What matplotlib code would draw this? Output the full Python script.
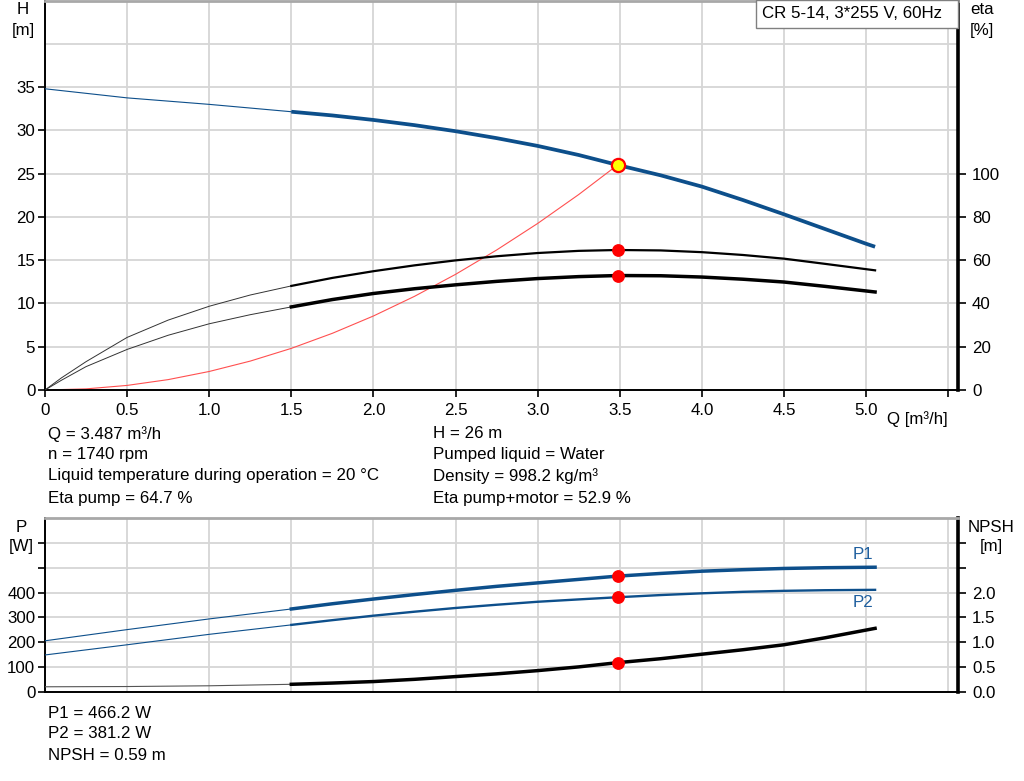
import matplotlib
matplotlib.use("Agg")
import matplotlib.pyplot as plt
from matplotlib.patches import Rectangle

plt.rcParams['font.family'] = ['Liberation Sans', 'DejaVu Sans']

# ---------------- data ----------------
# Head curve
Q_h_thin = [0.0, 0.5, 1.0, 1.5]
H_thin = [34.8, 33.75, 33.0, 32.15]
Q_h = [1.5, 1.75, 2.0, 2.25, 2.5, 2.75, 3.0, 3.25, 3.487, 3.75, 4.0, 4.25, 4.5, 4.75, 5.0, 5.055]
H_main = [32.15, 31.72, 31.2, 30.6, 29.9, 29.1, 28.2, 27.15, 26.0, 24.8, 23.5, 21.95, 20.3, 18.6, 16.9, 16.55]

# System curve
Q_sys = [0.0, 0.25, 0.5, 0.75, 1.0, 1.25, 1.5, 1.75, 2.0, 2.25, 2.5, 2.75, 3.0, 3.25, 3.487]
H_sys = [0.0, 0.13, 0.53, 1.2, 2.14, 3.34, 4.81, 6.55, 8.55, 10.82, 13.36, 16.17, 19.24, 22.58, 26.0]

# Efficiency curves
Q_e_thin = [0.0, 0.1, 0.25, 0.5, 0.75, 1.0, 1.25, 1.5]
eta_pump_thin = [0.0, 5.6, 13.1, 24.3, 32.3, 38.7, 43.9, 48.1]
eta_tot_thin = [0.0, 4.5, 10.8, 18.75, 25.3, 30.6, 34.8, 38.4]
Q_e = [1.5, 1.75, 2.0, 2.25, 2.5, 2.75, 3.0, 3.25, 3.487, 3.75, 4.0, 4.25, 4.5, 4.75, 5.055]
eta_pump = [48.1, 51.8, 54.9, 57.6, 59.9, 61.8, 63.3, 64.3, 64.7, 64.5, 63.7, 62.4, 60.7, 58.3, 55.3]
eta_tot = [38.4, 41.8, 44.6, 46.8, 48.6, 50.2, 51.5, 52.4, 52.9, 52.8, 52.2, 51.2, 49.9, 47.9, 45.3]

# Power curves
Q_p_thin = [0.0, 0.5, 1.0, 1.5]
P1_thin = [206, 251, 294, 334]
P2_thin = [149, 190, 232, 270]
Q_p = [1.5, 1.75, 2.0, 2.25, 2.5, 2.75, 3.0, 3.25, 3.487, 3.75, 4.0, 4.25, 4.5, 4.75, 5.055]
P1_main = [334, 355, 374, 392, 409, 425, 439, 453, 466.2, 477, 486, 492, 497, 500, 502]
P2_main = [270, 289, 307, 323, 338, 351, 363, 372.5, 381.2, 390, 397, 403, 407, 409.5, 411]

# NPSH curve
NPSH_thin = [0.105, 0.11, 0.125, 0.155]
NPSH_main = [0.155, 0.18, 0.21, 0.255, 0.31, 0.365, 0.43, 0.505, 0.59, 0.67, 0.76, 0.85, 0.95, 1.09, 1.28]

# Duty point
Q_op = 3.487
H_op = 26.0
eta_pump_op = 64.7
eta_tot_op = 52.9
P1_op = 466.2
P2_op = 381.2
NPSH_op = 0.59

x_ticks = [0, 0.5, 1.0, 1.5, 2.0, 2.5, 3.0, 3.5, 4.0, 4.5, 5.0, 5.5]
x_labels = ['0', '0.5', '1.0', '1.5', '2.0', '2.5', '3.0', '3.5', '4.0', '4.5', '5.0', '']
H_ticks = [0, 5, 10, 15, 20, 25, 30, 35]
eta_ticks = [0, 20, 40, 60, 80, 100]
P_ticks = [0, 100, 200, 300, 400, 500, 600]
P_labels = ['0', '100', '200', '300', '400', '', '']
N_ticks = [0.0, 0.5, 1.0, 1.5, 2.0, 2.5, 3.0]
N_labels = ['0.0', '0.5', '1.0', '1.5', '2.0', '', '']

info_left = ["Q = 3.487 m³/h", "n = 1740 rpm",
             "Liquid temperature during operation = 20 °C", "Eta pump = 64.7 %"]
info_right = ["H = 26 m", "Pumped liquid = Water",
              "Density = 998.2 kg/m³", "Eta pump+motor = 52.9 %"]
info_bottom = ["P1 = 466.2 W", "P2 = 381.2 W", "NPSH = 0.59 m"]

# ---------------- style ----------------
BLUE = '#0d4f8b'
BLUE_TXT = '#1f5f9e'
GRID = '#d6d6d6'
FS = 12.2
W, Hpx = 1024, 781

fig = plt.figure(figsize=(W / 100, Hpx / 100), dpi=100)

def fx(px):
    return px / W

def fy(py):
    return 1 - py / Hpx

XMAX = 5.56

def style_axes(ax):
    ax.set_xlim(0, XMAX)
    ax.grid(True, color=GRID, linewidth=1.3, zorder=0)
    ax.set_axisbelow(True)
    ax.spines['left'].set_color('black')
    ax.spines['left'].set_linewidth(1.4)
    ax.spines['bottom'].set_color('black')
    ax.spines['bottom'].set_linewidth(1.4)
    ax.spines['top'].set_color('#a8a8a8')
    ax.spines['top'].set_linewidth(2.0)
    ax.spines['right'].set_color('black')
    ax.spines['right'].set_linewidth(2.6)

# ---------------- top panel ----------------
ax1 = fig.add_axes([fx(45), fy(390), fx(958 - 45), fy(0.5) - fy(390)])
style_axes(ax1)
ax1.set_ylim(0, 45)
ax1.set_yticks(H_ticks)
ax1.set_yticklabels([str(t) for t in H_ticks])
ax1.axhline(40, color=GRID, linewidth=1.3, zorder=0)
ax1.set_xticks(x_ticks)
ax1.set_xticklabels(x_labels)
ax1.tick_params(axis='both', labelsize=FS, length=5, width=1.2, direction='out', pad=2)
ax1.tick_params(axis='x', pad=4)

ax1.plot(Q_h_thin, H_thin, color=BLUE, linewidth=0.8, zorder=3)
ax1.plot(Q_h, H_main, color=BLUE, linewidth=2.7, zorder=3, solid_capstyle='butt')
ax1.plot(Q_sys, H_sys, color='#ff5050', linewidth=0.8, zorder=2)
ax1.plot([Q_op], [H_op], 'o', markersize=9.5, markerfacecolor='#ffff00',
         markeredgecolor='#ff0000', markeredgewidth=1.6, zorder=6)

ax1r = ax1.twinx()
ax1r.set_xlim(0, XMAX)
ax1r.set_ylim(0, 180)
ax1r.set_yticks(eta_ticks)
ax1r.set_yticklabels([str(t) for t in eta_ticks])
ax1r.tick_params(axis='y', labelsize=FS, length=6, width=1.2, direction='out', pad=4)
for s in ax1r.spines.values():
    s.set_visible(False)
ax1r.plot(Q_e_thin, eta_pump_thin, color='#333333', linewidth=0.7, zorder=3)
ax1r.plot(Q_e_thin, eta_tot_thin, color='#333333', linewidth=0.7, zorder=3)
ax1r.plot(Q_e, eta_pump, color='black', linewidth=1.6, zorder=3)
ax1r.plot(Q_e, eta_tot, color='black', linewidth=2.5, zorder=3)
ax1r.plot([Q_op, Q_op], [eta_pump_op, eta_tot_op], 'o', color='#ff0000',
          markersize=8.2, zorder=6)

ax1.text(5.5, -0.055, "Q [m³/h]", transform=ax1.get_xaxis_transform(),
         ha='right', va='top', fontsize=FS)

# ---------------- bottom panel ----------------
ax2 = fig.add_axes([fx(45), fy(692), fx(958 - 45), fy(518) - fy(692)])
style_axes(ax2)
ax2.set_ylim(0, 700)
ax2.set_yticks(P_ticks)
ax2.set_yticklabels(P_labels)
ax2.set_xticks(x_ticks)
ax2.tick_params(axis='x', length=0, labelbottom=False)
ax2.tick_params(axis='y', labelsize=FS, length=5, width=1.2, direction='out', pad=2)

ax2.plot(Q_p_thin, P1_thin, color=BLUE, linewidth=0.8, zorder=3)
ax2.plot(Q_p_thin, P2_thin, color=BLUE, linewidth=0.8, zorder=3)
ax2.plot(Q_p, P1_main, color=BLUE, linewidth=2.5, zorder=3)
ax2.plot(Q_p, P2_main, color=BLUE, linewidth=1.7, zorder=3)
ax2.plot([Q_op, Q_op], [P1_op, P2_op], 'o', color='#ff0000', markersize=8.2, zorder=6)
ax2.text(Q_p[-1] - 0.01, P1_main[-1] + 22, "P1", color=BLUE_TXT, fontsize=FS,
         ha='right', va='bottom')
ax2.text(Q_p[-1] - 0.01, P2_main[-1] - 20, "P2", color=BLUE_TXT, fontsize=FS,
         ha='right', va='top')

ax2r = ax2.twinx()
ax2r.set_xlim(0, XMAX)
ax2r.set_ylim(0, 3.5)
ax2r.set_yticks(N_ticks)
ax2r.set_yticklabels(N_labels)
ax2r.tick_params(axis='y', labelsize=FS, length=6, width=1.2, direction='out', pad=4)
for s in ax2r.spines.values():
    s.set_visible(False)
ax2r.plot(Q_p_thin, NPSH_thin, color='#555555', linewidth=0.8, zorder=3)
ax2r.plot(Q_p, NPSH_main, color='black', linewidth=2.5, zorder=3)
ax2r.plot([Q_op], [NPSH_op], 'o', color='#ff0000', markersize=8.2, zorder=6)

# ---------------- axis titles ----------------
fig.text(fx(23), fy(10), "H", ha='center', va='center', fontsize=FS)
fig.text(fx(23), fy(30), "[m]", ha='center', va='center', fontsize=FS)
fig.text(fx(982), fy(10), "eta", ha='center', va='center', fontsize=FS)
fig.text(fx(982), fy(30), "[%]", ha='center', va='center', fontsize=FS)
fig.text(fx(21), fy(527), "P", ha='center', va='center', fontsize=FS)
fig.text(fx(21), fy(547), "[W]", ha='center', va='center', fontsize=FS)
fig.text(fx(991), fy(527), "NPSH", ha='center', va='center', fontsize=FS)
fig.text(fx(991), fy(547), "[m]", ha='center', va='center', fontsize=FS)

# title box
fig.patches.append(Rectangle((fx(756), fy(28)), fx(958 - 756), fy(0) - fy(28),
                             transform=fig.transFigure, facecolor='white',
                             edgecolor='#808080', linewidth=1.0, zorder=10))
fig.text(fx(762), fy(14), "CR 5-14, 3*255 V, 60Hz", ha='left', va='center',
         fontsize=FS, zorder=11)

# info texts
for i, (l, r) in enumerate(zip(info_left, info_right)):
    yy = [434, 455, 476, 498][i]
    fig.text(fx(48), fy(yy), l, ha='left', va='center', fontsize=FS)
    fig.text(fx(433), fy(yy), r, ha='left', va='center', fontsize=FS)
for i, t in enumerate(info_bottom):
    yy = [713, 734, 756][i]
    fig.text(fx(48), fy(yy), t, ha='left', va='center', fontsize=FS)

fig.savefig("out.png", dpi=100)
